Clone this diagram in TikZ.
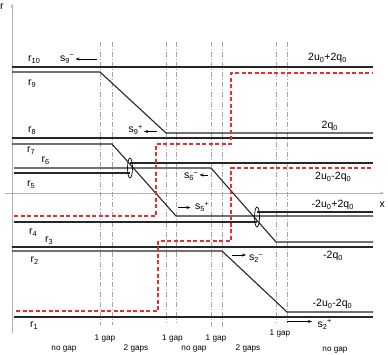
\documentclass[tikz,border=0pt]{standalone}
\usepackage{fontspec}
\setmainfont{Liberation Sans}
\usetikzlibrary{arrows.meta}

\definecolor{lred}{RGB}{235,45,45}
\newcommand{\lvl}[1]{r\textsubscript{#1}}
\newcommand{\spd}[2]{s\textsubscript{#1}\kern-0.5pt\textsuperscript{#2}}
\newcommand{\zr}[1]{#1\textsubscript{0}}

\begin{document}
\begin{tikzpicture}[
  x=1pt, y=-1pt,
  level/.style={line width=1.1pt, black!85},
  jump/.style={line width=1.1pt, draw=lred, dash pattern=on 4pt off 2.5pt},
  gapline/.style={line width=0.6pt, gray!70, dash pattern=on 5pt off 2pt on 1pt off 2pt},
  axis/.style={line width=0.7pt, gray!60, -{Stealth[length=4pt, width=3pt]}},
  arrow/.style={-{Stealth[length=4pt, width=3pt]}, line width=0.6pt},
  lab/.style={font=\fontsize{10.5}{12}\selectfont, inner sep=0pt, anchor=base west},
  gaplab/.style={font=\fontsize{8.2}{10}\selectfont, inner sep=0pt, anchor=base}
]
\useasboundingbox (0,0) rectangle (388,355);

%% Axes
\coordinate (rbot) at (12,333);
\coordinate (rtop) at (12,4);
\coordinate (xleft) at (5,193);
\coordinate (xright) at (384,193);
\draw[axis] (rbot) -- (rtop);
\draw[axis] (xleft) -- (xright);
\node[lab] (rname) at (0,10) {r};
\node[lab] (xname) at (379.5,208) {x};

%% Gap boundaries
\foreach \gx/\gy in {100/325,112/325,166/323,176/323,211/327,222/327,276/323,287/323}
  \draw[gapline] (\gx,42) -- (\gx,\gy);

%% Levels
\draw[level] (12,67) -- (373,67);
\draw[level] (12,72) -- (100,72) -- (166,133) -- (373,133);
\draw[level] (12,138) -- (373,138);
\draw[level] (12,144) -- (112,144) -- (176,216) -- (373,216);
\draw[level] (14,168) -- (211,168) -- (276,242) -- (373,242);
\draw[level] (14,173) -- (130,173);
\draw[level] (130,163) -- (373,163);
\draw[level] (14,222) -- (257,222);
\draw[level] (257,212) -- (373,212);
\draw[level] (12,247) -- (373,247);
\draw[level] (12,251) -- (222,251) -- (287,312) -- (373,312);
\draw[level] (14,317) -- (373,317);

%% Collisions
\draw[line width=0.7pt] (130,168) ellipse [x radius=2.5pt, y radius=10pt];
\draw[line width=0.7pt] (257,217) ellipse [x radius=2.5pt, y radius=10pt];

%% Jumps
\draw[jump] (14,216) -- (156,216) -- (156,144) -- (231,144) -- (231,73) -- (373,73);
\draw[jump] (16,311) -- (158,311) -- (158,241) -- (231,241) -- (231,168) -- (373,168);

%% Level names
\node[lab] (r10) at (28,62) {\lvl{10}};
\node[lab] (r9) at (28,86) {\lvl{9}};
\node[lab] (r8) at (28,132.5) {\lvl{8}};
\node[lab] (r7) at (27,153) {\lvl{7}};
\node[lab] (r6) at (41.5,163) {\lvl{6}};
\node[lab] (r5) at (27,186.5) {\lvl{5}};
\node[lab] (r4) at (29,235) {\lvl{4}};
\node[lab] (r3) at (45,243) {\lvl{3}};
\node[lab] (r2) at (30.5,263) {\lvl{2}};
\node[lab] (r1) at (30,327.5) {\lvl{1}};

%% Level values
\node[lab] (v10) at (308,61) {2\zr{u}+2\zr{q}};
\node[lab] (v8) at (321.5,128.5) {2\zr{q}};
\node[lab] (v6) at (315,180) {2\zr{u}-2\zr{q}};
\node[lab] (v5) at (311.5,207.5) {-2\zr{u}+2\zr{q}};
\node[lab] (v3) at (323,259) {-2\zr{q}};
\node[lab] (v1) at (312.5,306.5) {-2\zr{u}-2\zr{q}};

%% Speeds
\node[lab] (s9m) at (60,61.5) {\spd{9}{−}};
\node[lab] (s9p) at (128.5,133) {\spd{9}{+}};
\node[lab] (s6m) at (184,179) {\spd{6}{−}};
\node[lab] (s5p) at (195,210) {\spd{5}{+}};
\node[lab] (s2m) at (249,261) {\spd{2}{−}};
\node[lab] (s2p) at (317.5,327.5) {\spd{2}{+}};
\coordinate (a9m) at (97,59);
\coordinate (a9p) at (157,131.5);
\coordinate (a6m) at (208,175);
\coordinate (a5p) at (178,207.5);
\coordinate (a2m) at (232,255);
\coordinate (a2p) at (287,321.5);
\draw[arrow, shorten >=1pt] (a9m) -- (a9m -| s9m.east);
\draw[arrow, shorten >=1pt] (a9p) -- (a9p -| s9p.east);
\draw[arrow, shorten >=1pt] (a6m) -- (a6m -| s6m.east);
\draw[arrow, shorten >=4.5pt] (a5p) -- (a5p -| s5p.west);
\draw[arrow, shorten >=3pt] (a2m) -- (a2m -| s2m.west);
\draw[arrow, shorten >=5.5pt] (a2p) -- (a2p -| s2p.west);

%% Gap counts
\node[gaplab] (g1) at (64,350) {no gap};
\node[gaplab] (g2) at (105,340) {1 gap};
\node[gaplab] (g3) at (136,350) {2 gaps};
\node[gaplab] (g4) at (172.5,340) {1 gap};
\node[gaplab] (g5) at (194,350) {no gap};
\node[gaplab] (g6) at (216,340) {1 gap};
\node[gaplab] (g7) at (248,350) {2 gaps};
\node[gaplab] (g8) at (280,335) {1 gap};
\node[gaplab] (g9) at (335,351.5) {no gap};
\end{tikzpicture}
\end{document}
